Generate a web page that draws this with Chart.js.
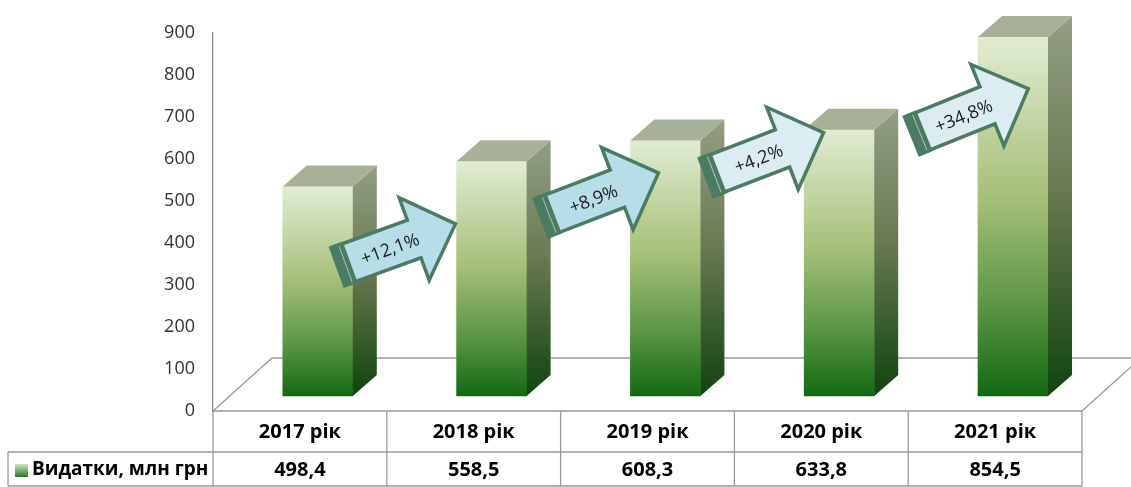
<!DOCTYPE html>
<html>
<head>
<meta charset="utf-8">
<script src="https://cdn.jsdelivr.net/npm/chart.js@4/dist/chart.umd.min.js"></script>
<style>
  body { margin: 0; background: #fff; }
  #wrap { width: 1131px; height: 487px; }
</style>
</head>
<body>
<div id="wrap"><canvas id="chart" width="1131" height="487"></canvas></div>
<script>
// ==================== DATA ====================
const categories = ['2017 рік', '2018 рік', '2019 рік', '2020 рік', '2021 рік'];
const spending = [498.4, 558.5, 608.3, 633.8, 854.5];
const growthLabels = ['+12,1%', '+8,9%', '+4,2%', '+34,8%'];
const seriesName = 'Видатки, млн грн';
const yMin = 0, yMax = 900, yStep = 100;

// arrow anchors: [category index, value on y axis, angle in degrees]
const arrowAnchors = [[0.56, 395, -20], [1.73, 514, -21], [2.68, 610, -21], [3.86, 712, -22]];
const arrowFills = ['#b7dde8', '#b7dde8', '#dbedf3', '#dbedf3'];

const FONT = '"Open Sans", "Noto Sans", sans-serif';
const DEPTH_BAR = { dx: 24, dy: -21 };
const DEPTH_FLOOR = { dx: 59, dy: -53 };
const BAR_LIFT = 36;   // bars stand on the middle of the floor, not on its front edge
const BAR_SHIFT = 0.103;

// ==================== HELPERS ====================
function frontGradient(ctx, top, bottom) {
    const g = ctx.createLinearGradient(0, top, 0, bottom);
    g.addColorStop(0, '#e1ecd3');
    g.addColorStop(0.45, '#a5bf78');
    g.addColorStop(0.75, '#5b9545');
    g.addColorStop(1, '#136913');
    return g;
}

function sideGradient(ctx, top, bottom) {
    const g = ctx.createLinearGradient(0, top, 0, bottom);
    g.addColorStop(0, '#939e85');
    g.addColorStop(0.45, '#6b7a52');
    g.addColorStop(1, '#0f440d');
    return g;
}

// floor of the 3D plot, drawn under the bars
const floorPlugin = {
    id: 'floor',
    beforeDatasetsDraw(chart) {
        const { ctx, chartArea: a } = chart;
        ctx.save();
        ctx.strokeStyle = '#9a9a9a';
        ctx.lineWidth = 1.3;
        ctx.beginPath();
        ctx.moveTo(a.left, a.bottom);
        ctx.lineTo(a.left + DEPTH_FLOOR.dx, a.bottom + DEPTH_FLOOR.dy);
        ctx.lineTo(chart.width + 20, a.bottom + DEPTH_FLOOR.dy);
        ctx.moveTo(a.right, a.bottom);
        ctx.lineTo(a.right + DEPTH_FLOOR.dx, a.bottom + DEPTH_FLOOR.dy);
        ctx.stroke();
        ctx.restore();
    }
};

// side and top faces of each bar, then the growth arrows
const bar3dPlugin = {
    id: 'bar3d',
    afterDatasetsDraw(chart) {
        const { ctx } = chart;
        const meta = chart.getDatasetMeta(0);
        ctx.save();
        meta.data.forEach(bar => {
            const half = bar.width / 2;
            const l = bar.x - half, r = bar.x + half, t = bar.y, b = bar.base;
            const { dx, dy } = DEPTH_BAR;
            ctx.fillStyle = sideGradient(ctx, t + dy, b);
            ctx.beginPath();
            ctx.moveTo(r, t);
            ctx.lineTo(r + dx, t + dy);
            ctx.lineTo(r + dx, b + dy);
            ctx.lineTo(r, b);
            ctx.closePath();
            ctx.fill();
            ctx.fillStyle = '#a6b197';
            ctx.beginPath();
            ctx.moveTo(l, t);
            ctx.lineTo(l + dx, t + dy);
            ctx.lineTo(r + dx, t + dy);
            ctx.lineTo(r, t);
            ctx.closePath();
            ctx.fill();
        });

        const xs = chart.scales.x, ys = chart.scales.y;
        growthLabels.forEach((label, i) => {
            const [ix, val, ang] = arrowAnchors[i];
            drawArrow(ctx, xs.getPixelForValue(ix), ys.getPixelForValue(val), ang, label, arrowFills[i]);
        });
        ctx.restore();
    }
};

function drawArrow(ctx, cx, cy, angle, label, fill) {
    const half = 62, bodyH = 20, headH = 44, headLen = 44;
    ctx.save();
    ctx.translate(cx, cy);
    ctx.rotate(angle * Math.PI / 180);
    ctx.beginPath();
    ctx.moveTo(-half, -bodyH);
    ctx.lineTo(half - headLen, -bodyH);
    ctx.lineTo(half - headLen, -headH);
    ctx.lineTo(half, 0);
    ctx.lineTo(half - headLen, headH);
    ctx.lineTo(half - headLen, bodyH);
    ctx.lineTo(-half, bodyH);
    ctx.closePath();
    ctx.fillStyle = fill;
    ctx.fill();
    ctx.lineJoin = 'miter';
    ctx.lineWidth = 3.5;
    ctx.strokeStyle = '#4b7c63';
    ctx.stroke();
    // extruded back end
    ctx.fillStyle = '#4b7c63';
    ctx.fillRect(-half - 3, -bodyH - 2, 15, bodyH * 2 + 4);
    ctx.strokeStyle = '#a3c2b2';
    ctx.lineWidth = 1;
    ctx.beginPath();
    ctx.moveTo(-half + 7, -bodyH + 1);
    ctx.lineTo(-half + 7, bodyH - 1);
    ctx.stroke();
    ctx.fillStyle = '#1a1a1a';
    ctx.font = '18px ' + FONT;
    ctx.textAlign = 'center';
    ctx.textBaseline = 'middle';
    ctx.fillText(label, -8, 2);
    ctx.restore();
}

// data table under the plot
const tablePlugin = {
    id: 'dataTable',
    afterDraw(chart) {
        const { ctx, chartArea: a } = chart;
        const xs = chart.scales.x;
        const colW = (a.right - a.left) / categories.length;
        const rowTop = a.bottom, rowMid = a.bottom + 41, rowBot = chart.height - 1;
        const tableLeft = 8;
        ctx.save();
        ctx.strokeStyle = '#9a9a9a';
        ctx.lineWidth = 1.3;
        ctx.beginPath();
        ctx.moveTo(a.left, rowTop); ctx.lineTo(a.right, rowTop);
        ctx.moveTo(tableLeft, rowMid); ctx.lineTo(a.right, rowMid);
        ctx.moveTo(tableLeft, rowBot); ctx.lineTo(a.right, rowBot);
        ctx.moveTo(tableLeft, rowMid); ctx.lineTo(tableLeft, rowBot);
        for (let i = 0; i <= categories.length; i++) {
            const x = a.left + i * colW;
            ctx.moveTo(x, rowTop); ctx.lineTo(x, rowBot);
        }
        ctx.stroke();

        ctx.fillStyle = '#000';
        ctx.font = 'bold 20px ' + FONT;
        ctx.textAlign = 'center';
        ctx.textBaseline = 'middle';
        categories.forEach((c, i) => {
            const x = xs.getPixelForValue(i);
            ctx.fillText(c, x, (rowTop + rowMid) / 2 + 1);
            ctx.fillText(spending[i].toFixed(1).replace('.', ','), x, (rowMid + rowBot) / 2 + 1);
        });

        // series key
        const g = ctx.createLinearGradient(0, rowMid + 12, 0, rowMid + 26);
        g.addColorStop(0, '#d3e4bf');
        g.addColorStop(1, '#1d6e1b');
        ctx.fillStyle = g;
        ctx.fillRect(15, rowMid + 12, 13, 13);
        ctx.fillStyle = '#000';
        ctx.textAlign = 'left';
        ctx.font = 'bold 19px ' + FONT;
        ctx.fillText(seriesName, 32, (rowMid + rowBot) / 2 + 1);
        ctx.restore();
    }
};

// ==================== CHART ====================
const ctx = document.getElementById('chart').getContext('2d');
const chart = new Chart(ctx, {
    type: 'bar',
    data: {
        labels: categories,
        datasets: [{
            label: seriesName,
            data: spending.map((v, i) => ({ x: i, y: v })),
            xAxisID: 'xb',
            yAxisID: 'yb',
            barThickness: 70,
            borderWidth: 0,
            backgroundColor: c => {
                const area = c.chart.chartArea;
                if (!area || !c.raw) return '#7aa85a';
                const ys = c.chart.scales.yb;
                return frontGradient(c.chart.ctx, ys.getPixelForValue(c.raw.y), ys.getPixelForValue(0));
            }
        }]
    },
    options: {
        responsive: false,
        animation: false,
        layout: { padding: { left: 150, right: 49, top: 33, bottom: 76 } },
        plugins: {
            legend: { display: false },
            tooltip: { enabled: false }
        },
        scales: {
            x: {
                type: 'category',
                display: false,
                offset: true
            },
            xb: {
                type: 'linear',
                axis: 'x',
                display: false,
                offset: false,
                min: -0.5 - BAR_SHIFT,
                max: categories.length - 0.5 - BAR_SHIFT
            },
            y: {
                type: 'linear',
                position: 'left',
                min: yMin,
                max: yMax,
                ticks: {
                    stepSize: yStep,
                    padding: 18,
                    color: '#333',
                    font: { family: FONT, size: 18 }
                },
                grid: { display: false, drawTicks: false },
                border: { display: true, color: '#8c8c8c', width: 1.3 },
                afterFit: s => { s.width = 63; }
            },
            yb: {
                type: 'linear',
                axis: 'y',
                display: false,
                min: yMin - BAR_LIFT,
                max: yMax - BAR_LIFT
            }
        }
    },
    plugins: [floorPlugin, bar3dPlugin, tablePlugin]
});
</script>
</body>
</html>
